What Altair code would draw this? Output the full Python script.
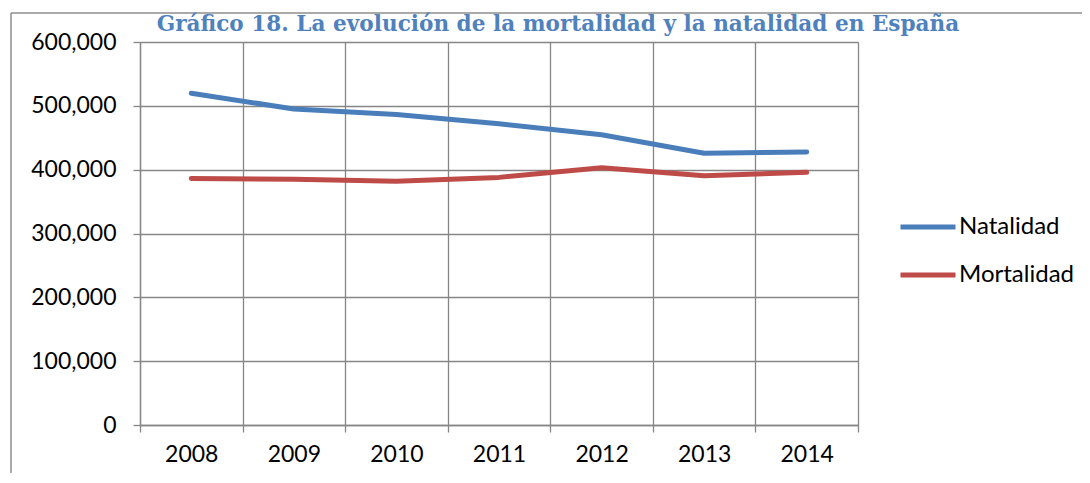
import altair as alt
import pandas as pd

years = ["2008", "2009", "2010", "2011", "2012", "2013", "2014"]
natalidad = [519779, 494997, 486575, 471999, 454648, 425715, 427595]
mortalidad = [386324, 384933, 382047, 387911, 402950, 390419, 395830]
series = ["Natalidad", "Mortalidad"]
colors = ["#4A7EBB", "#BE4B48"]
y_ticks = [0, 100000, 200000, 300000, 400000, 500000, 600000]
title_text = "Gráfico 18. La evolución de la mortalidad y la natalidad en España"

df = pd.DataFrame({
    "year": years + years,
    "value": natalidad + mortalidad,
    "serie": [series[0]] * len(years) + [series[1]] * len(years),
})

W, H = 718, 383
FONT = "Lato"
GRID = "#868686"

lines = alt.Chart(df).mark_line(strokeWidth=5, strokeCap="round", strokeJoin="round").encode(
    x=alt.X("year:N", sort=years,
            scale=alt.Scale(type="band", paddingInner=0, paddingOuter=0),
            axis=alt.Axis(title=None, labelAngle=0, tickBand="extent", grid=True,
                          gridColor=GRID, gridWidth=1.3, domainColor=GRID, domainWidth=1.3,
                          tickColor=GRID, tickWidth=1.3, tickSize=7, labelPadding=11,
                          labelFont=FONT, labelFontSize=23, labelColor="#000000")),
    y=alt.Y("value:Q", scale=alt.Scale(domain=[0, 600000], nice=False, zero=True),
            axis=alt.Axis(title=None, values=y_ticks, format=",d", grid=True,
                          gridColor=GRID, gridWidth=1.3, domainColor=GRID, domainWidth=1.3,
                          tickColor=GRID, tickWidth=1.3, tickSize=7, labelPadding=17,
                          labelFont=FONT, labelFontSize=23, labelColor="#000000")),
    color=alt.Color("serie:N", sort=series,
                    scale=alt.Scale(domain=series, range=colors),
                    legend=alt.Legend(title=None, orient="none", legendX=758, legendY=170,
                                      symbolType="stroke", symbolSize=3025, symbolStrokeWidth=5,
                                      labelFont=FONT, labelFontSize=24, labelColor="#000000",
                                      labelOffset=1, clipHeight=30, rowPadding=18, padding=0)),
)

one = pd.DataFrame({"t": [title_text]})
frame_v = alt.Chart(one).mark_rule(color="#8E8E8E", strokeWidth=1.5).encode(
    x=alt.value(-129), y=alt.value(-29), y2=alt.value(H + 70))
frame_h = alt.Chart(one).mark_rule(color="#8E8E8E", strokeWidth=1.5).encode(
    x=alt.value(-129), x2=alt.value(960), y=alt.value(-29))
title = alt.Chart(one).mark_text(font="DejaVu Serif", fontSize=21.6, fontWeight="bold",
                                 color="#4F81BD", align="center", baseline="alphabetic").encode(
    text="t:N", x=alt.value(418), y=alt.value(-11))

chart = alt.layer(frame_v, frame_h, title, lines).properties(
    width=W, height=H,
    autosize=alt.AutoSizeParams(type="none"),
    padding={"left": 132, "top": 34, "right": 224, "bottom": 48},
).configure_view(stroke=None).configure(background="white")

chart.save("out.html", embed_options={"renderer": "svg", "actions": False})
